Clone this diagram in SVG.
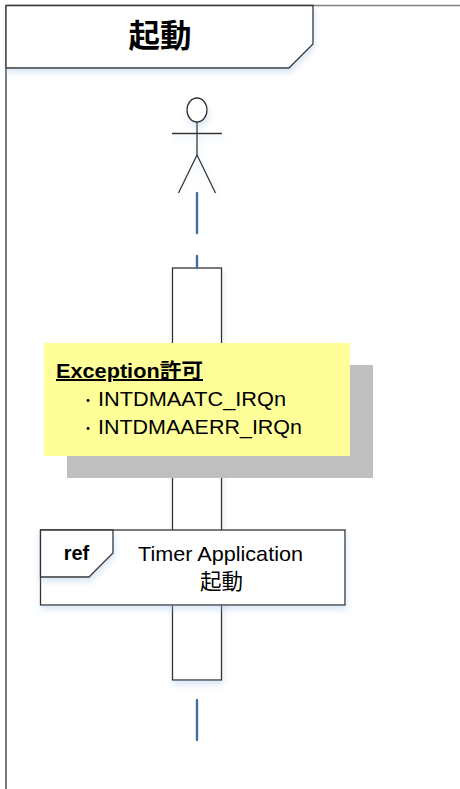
<svg xmlns="http://www.w3.org/2000/svg" width="460" height="789" viewBox="0 0 460 789">
<style>
.ln{fill:none;stroke:#333;stroke-width:1.3}
.box{fill:#fff;stroke:#333;stroke-width:1.3}
.dash{fill:none;stroke:#41719c;stroke-width:2.4;stroke-linecap:round}
.t{font-family:"Liberation Sans","Noto Sans CJK JP",sans-serif;fill:#000}
.b{font-weight:bold}
</style>
<defs>
<filter id="soft" x="-20%" y="-20%" width="140%" height="140%">
<feGaussianBlur in="SourceAlpha" stdDeviation="3" result="b"/>
<feOffset in="b" dx="1" dy="4" result="o"/>
<feFlood flood-color="#9dc3e6" flood-opacity="0.4"/>
<feComposite in2="o" operator="in"/>
<feMerge><feMergeNode/><feMergeNode in="SourceGraphic"/></feMerge>
</filter>
</defs>
<g id="frame">
<path d="M6 5.500H460" fill="none" stroke="#7f7f7f" stroke-width="1.300"/>
<path class="ln" d="M6 5.500V789"/>
<path class="box" filter="url(#soft)" d="M6 5.500H313V44L289 68H6Z"/>
<text class="t b" x="160" y="47" font-size="31.500" text-anchor="middle">起動</text>
</g>
<g id="actor" filter="url(#soft)">
<ellipse class="box" cx="197" cy="110" rx="10" ry="12"/>
<path class="ln" d="M172 133.500H222M197 122V155M197 155L178.500 193M197 155L215.500 193"/>
</g>
<g id="activation">
<rect class="box" filter="url(#soft)" x="172.500" y="268" width="49" height="412"/>
</g>
<g id="connectors">
<path class="dash" d="M197 193V233M197 256V268M197 700V740"/>
</g>
<g id="note">
<rect x="67" y="365" width="306" height="113" fill="#bfbfbf"/>
<rect x="44" y="343" width="306" height="113" fill="#ffff99"/>
<text class="t b" x="56" y="378" font-size="20" text-decoration="underline" textLength="147" lengthAdjust="spacingAndGlyphs">Exception許可</text>
<text class="t" x="81" y="405" font-size="14">・</text>
<text class="t" x="98" y="406" font-size="20" textLength="188" lengthAdjust="spacingAndGlyphs">INTDMAATC_IRQn</text>
<text class="t" x="81" y="433" font-size="14">・</text>
<text class="t" x="98" y="434" font-size="20" textLength="204" lengthAdjust="spacingAndGlyphs">INTDMAAERR_IRQn</text>
</g>
<g id="ref">
<rect class="box" filter="url(#soft)" x="40.500" y="530" width="304.500" height="75"/>
<path class="box" filter="url(#soft)" d="M40.500 530H113V553L89 577H40.500Z"/>
<text class="t b" x="76.500" y="560" font-size="20" text-anchor="middle">ref</text>
<text class="t" x="138" y="561" font-size="21" textLength="165" lengthAdjust="spacingAndGlyphs">Timer Application</text>
<text class="t" x="221.500" y="589" font-size="21.500" text-anchor="middle">起動</text>
</g>
</svg>
